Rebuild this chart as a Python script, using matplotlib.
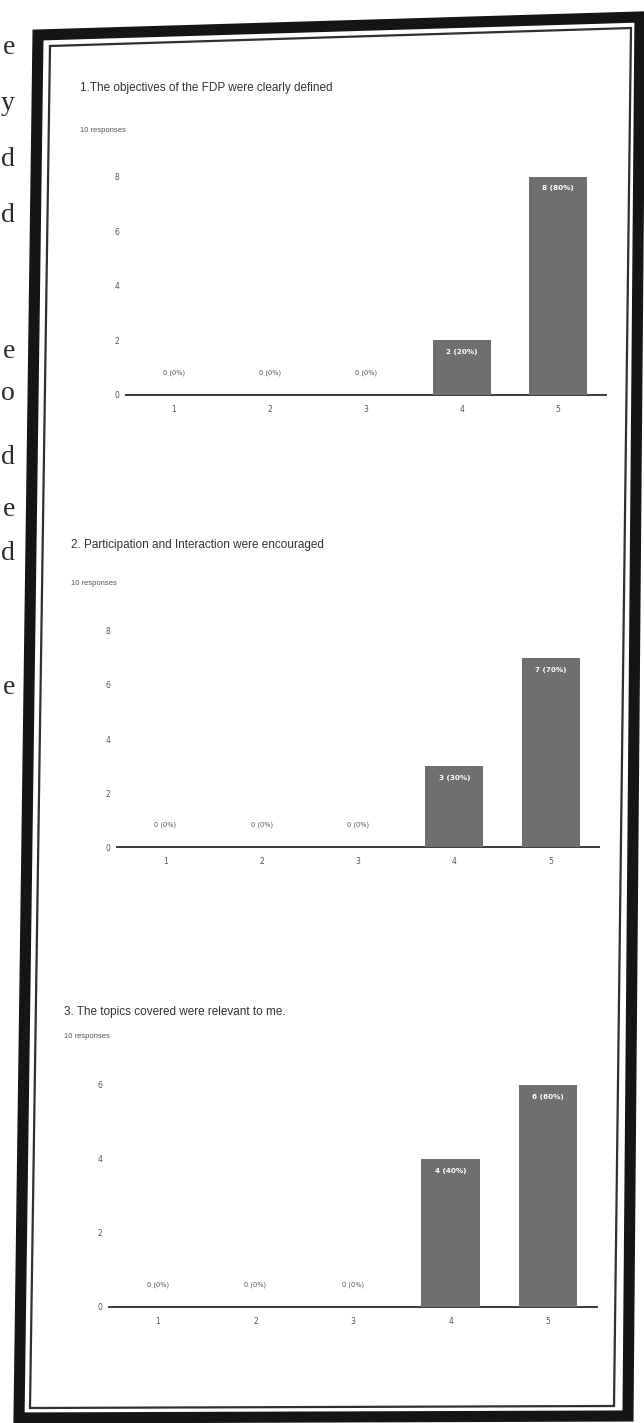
import matplotlib
matplotlib.use("Agg")
import matplotlib.pyplot as plt
from matplotlib.patches import Polygon

# --- Data ---
CATEGORIES = ["1", "2", "3", "4", "5"]
TITLES = [
    "1.The objectives of the FDP were clearly defined",
    "2. Participation and Interaction were encouraged",
    "3. The topics covered were relevant to me.",
]
SUBTITLE = "10 responses"
COUNTS_Q1 = [0, 0, 0, 2, 8]
COUNTS_Q2 = [0, 0, 0, 3, 7]
COUNTS_Q3 = [0, 0, 0, 4, 6]
TOTAL = 10
YTICKS_Q1 = [0, 2, 4, 6, 8]
YTICKS_Q2 = [0, 2, 4, 6, 8]
YTICKS_Q3 = [0, 2, 4, 6]
MARGIN_LETTERS = ["e", "y", "d", "d", "e", "o", "d", "e", "d", "e"]

# --- Layout (pixels) ---
W, H = 644, 1423
BAR_COLOR = "#6f6f6f"

fig = plt.figure(figsize=(W / 100, H / 100), dpi=100)
fig.patch.set_facecolor("white")


def fx(x):
    return x / W


def fy(y):
    return 1 - y / H


# background axes for the scanned frame and page fragments
bg = fig.add_axes([0, 0, 1, 1], zorder=0)
bg.set_xlim(0, W)
bg.set_ylim(H, 0)
bg.axis("off")

outer = [(38, 35), (640, 17), (628, 1416), (19, 1418)]
inner = [(50, 46), (631, 28), (614, 1406), (30, 1408)]
bg.add_patch(Polygon(outer, closed=True, fill=False, edgecolor="#151515", linewidth=8))
bg.add_patch(Polygon(inner, closed=True, fill=False, edgecolor="#303030", linewidth=1.6))

letter_y = [47, 103, 160, 215, 352, 393, 457, 510, 553, 687]
for ch, yy in zip(MARGIN_LETTERS, letter_y):
    bg.text(15, yy, ch, ha="right", va="center", fontsize=20,
            family="Liberation Serif", color="#2a2a2a")

# chart frames: (left, width, baseline_y, ymax, title xy, subtitle y)
charts = [
    (COUNTS_Q1, YTICKS_Q1, 126, 480, 395, 9.0, (80, 88), 130),
    (COUNTS_Q2, YTICKS_Q2, 117, 482, 847, 9.0, (71, 545), 583),
    (COUNTS_Q3, YTICKS_Q3, 109, 488, 1307, 6.6, (64, 1012), 1037),
]
unit_px = [27.3, 27.0, 37.0]

for i, (counts, yticks, left, width, base, ymax, (tx, ty), sy) in enumerate(charts):
    height = ymax * unit_px[i]
    ax = fig.add_axes([fx(left), fy(base), width / W, height / H], zorder=2)
    ax.patch.set_alpha(0)
    x = range(len(CATEGORIES))
    bars = ax.bar(x, counts, width=0.6, color=BAR_COLOR, zorder=3)
    ax.set_xlim(-0.5, 4.5)
    ax.set_ylim(0, ymax)
    ax.set_xticks(list(x))
    ax.set_xticklabels(CATEGORIES, fontsize=5.5, color="#555555")
    ax.set_yticks(yticks)
    ax.set_yticklabels([str(t) for t in yticks], fontsize=5.5, color="#555555")
    ax.tick_params(length=0, pad=5)
    ax.tick_params(axis="x", pad=7)
    for s in ["top", "right", "left"]:
        ax.spines[s].set_visible(False)
    ax.spines["bottom"].set_color("#3a3a3a")
    ax.spines["bottom"].set_linewidth(1.4)

    for b, c in zip(bars, counts):
        label = f"{c} ({c * 100 // TOTAL}%)"
        cx = b.get_x() + b.get_width() / 2
        if c == 0:
            ax.annotate(label, (cx, 0), xytext=(0, 16), textcoords="offset points",
                        ha="center", va="center", fontsize=4.8, color="#555555")
        else:
            ax.annotate(label, (cx, c), xytext=(0, -8.5), textcoords="offset points",
                        ha="center", va="center", fontsize=5.2, color="white",
                        fontweight="bold")

    fig.text(fx(tx), fy(ty), TITLES[i], ha="left", va="center", fontsize=8.5,
             family="Liberation Sans", color="#333333")
    fig.text(fx(tx), fy(sy), SUBTITLE, ha="left", va="center", fontsize=5.5,
             family="Liberation Sans", color="#555555")

fig.savefig("out.png", dpi=100)
